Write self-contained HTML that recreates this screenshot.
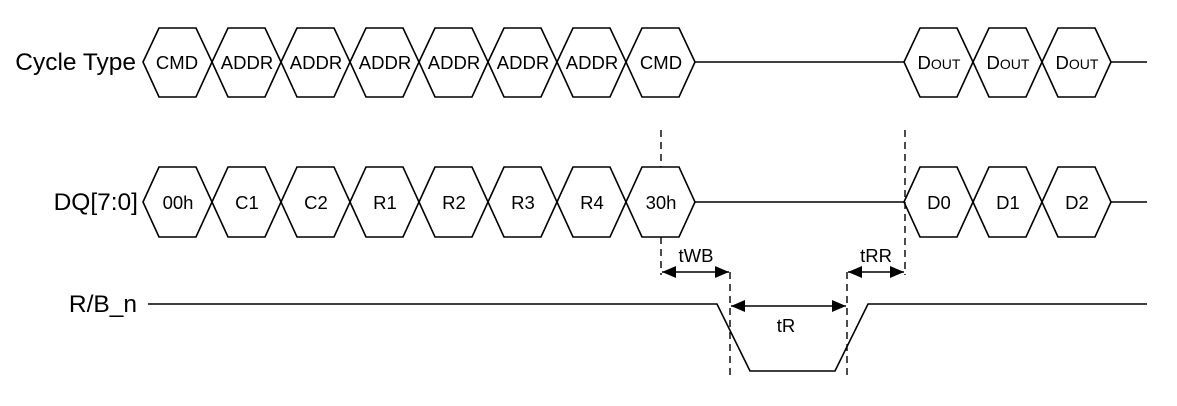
<!DOCTYPE html>
<html><head><meta charset="utf-8"><style>
html,body{margin:0;padding:0;background:#fff;}
svg{display:block;}
text{font-family:"Liberation Sans",Arial,sans-serif;fill:#000;}
</style></head><body>
<svg width="1177" height="406" viewBox="0 0 1177 406" xmlns="http://www.w3.org/2000/svg">
<defs>
<marker id="ah" viewBox="0 0 14 12" refX="14" refY="6" markerWidth="14" markerHeight="12" markerUnits="userSpaceOnUse" orient="auto-start-reverse"><path d="M0,0 L14,6 L0,12 z" fill="#000"/></marker>
</defs>
<g stroke="#000" stroke-width="1.6" fill="none">
<path d="M143,62 L159,28 L196,28 L212,62 L196,97 L159,97 Z"/>
<path d="M212,62 L228,28 L265,28 L281,62 L265,97 L228,97 Z"/>
<path d="M281,62 L297,28 L334,28 L350,62 L334,97 L297,97 Z"/>
<path d="M350,62 L366,28 L403,28 L419,62 L403,97 L366,97 Z"/>
<path d="M419,62 L435,28 L472,28 L488,62 L472,97 L435,97 Z"/>
<path d="M488,62 L504,28 L541,28 L557,62 L541,97 L504,97 Z"/>
<path d="M557,62 L573,28 L610,28 L626,62 L610,97 L573,97 Z"/>
<path d="M626,62 L642,28 L679,28 L695,62 L679,97 L642,97 Z"/>
<line x1="695" y1="62" x2="904" y2="62"/>
<path d="M904,62 L920,28 L957,28 L973,62 L957,97 L920,97 Z"/>
<path d="M973,62 L989,28 L1026,28 L1042,62 L1026,97 L989,97 Z"/>
<path d="M1042,62 L1058,28 L1095,28 L1111,62 L1095,97 L1058,97 Z"/>
<line x1="1111" y1="62" x2="1147" y2="62"/>
<path d="M143,202 L159,167 L196,167 L212,202 L196,237 L159,237 Z"/>
<path d="M212,202 L228,167 L265,167 L281,202 L265,237 L228,237 Z"/>
<path d="M281,202 L297,167 L334,167 L350,202 L334,237 L297,237 Z"/>
<path d="M350,202 L366,167 L403,167 L419,202 L403,237 L366,237 Z"/>
<path d="M419,202 L435,167 L472,167 L488,202 L472,237 L435,237 Z"/>
<path d="M488,202 L504,167 L541,167 L557,202 L541,237 L504,237 Z"/>
<path d="M557,202 L573,167 L610,167 L626,202 L610,237 L573,237 Z"/>
<path d="M626,202 L642,167 L679,167 L695,202 L679,237 L642,237 Z"/>
<line x1="695" y1="202" x2="904" y2="202"/>
<path d="M904,202 L920,167 L957,167 L973,202 L957,237 L920,237 Z"/>
<path d="M973,202 L989,167 L1026,167 L1042,202 L1026,237 L989,237 Z"/>
<path d="M1042,202 L1058,167 L1095,167 L1111,202 L1095,237 L1058,237 Z"/>
<line x1="1111" y1="202" x2="1147" y2="202"/>
<path d="M148,304 L717,304 L750,371 L835,371 L868,304 L1147,304"/>
</g>
<g stroke="#000" stroke-width="1.4" stroke-dasharray="7,5" fill="none">
<line x1="661" y1="130" x2="661" y2="167"/>
<line x1="661" y1="237" x2="661" y2="275"/>
<line x1="905" y1="130" x2="905" y2="275"/>
<line x1="730" y1="272" x2="730" y2="378"/>
<line x1="847" y1="272" x2="847" y2="378"/>
</g>
<g stroke="#000" stroke-width="1.6">
<line x1="662" y1="272" x2="729" y2="272" marker-start="url(#ah)" marker-end="url(#ah)"/>
<line x1="848" y1="272" x2="904" y2="272" marker-start="url(#ah)" marker-end="url(#ah)"/>
<line x1="731" y1="306" x2="846" y2="306" marker-start="url(#ah)" marker-end="url(#ah)"/>
</g>
<g font-size="18.5" text-anchor="middle">
<text x="177" y="69">CMD</text>
<text x="247" y="69">ADDR</text>
<text x="316" y="69">ADDR</text>
<text x="385" y="69">ADDR</text>
<text x="454" y="69">ADDR</text>
<text x="523" y="69">ADDR</text>
<text x="592" y="69">ADDR</text>
<text x="661" y="69">CMD</text>
<text x="939" y="69">D<tspan font-size="14">OUT</tspan></text>
<text x="1008" y="69">D<tspan font-size="14">OUT</tspan></text>
<text x="1077" y="69">D<tspan font-size="14">OUT</tspan></text>
<text x="178" y="209">00h</text>
<text x="247" y="209">C1</text>
<text x="316" y="209">C2</text>
<text x="385" y="209">R1</text>
<text x="454" y="209">R2</text>
<text x="523" y="209">R3</text>
<text x="592" y="209">R4</text>
<text x="661" y="209">30h</text>
<text x="939" y="209">D0</text>
<text x="1008" y="209">D1</text>
<text x="1077" y="209">D2</text>
<text x="696" y="262">tWB</text>
<text x="876" y="262">tRR</text>
<text x="786" y="332">tR</text>
</g>
<g font-size="24.5" text-anchor="end">
<text x="136" y="70">Cycle Type</text>
<text x="138" y="210">DQ[7:0]</text>
<text x="137" y="312">R/B_n</text>
</g>
</svg>
</body></html>
